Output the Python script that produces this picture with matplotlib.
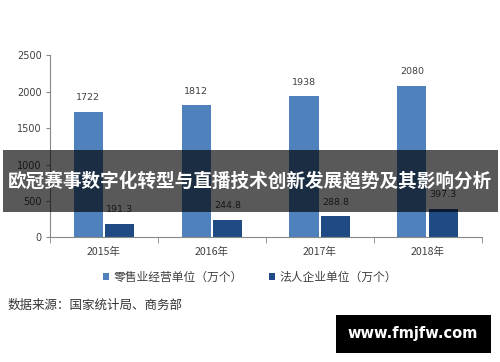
import matplotlib
matplotlib.use("Agg")
import matplotlib.pyplot as plt
import numpy as np
from matplotlib.patches import Rectangle

plt.rcParams['font.family'] = ['DejaVu Sans', 'Noto Sans CJK SC']

years = ['2015年', '2016年', '2017年', '2018年']
retail_units = [1722, 1812, 1938, 2080]
legal_units = [191.3, 244.8, 288.8, 397.3]
series_names = ['零售业经营单位（万个）', '法人企业单位（万个）']
title = '欧冠赛事数字化转型与直播技术创新发展趋势及其影响分析'
source = '数据来源：国家统计局、商务部'
site = 'www.fmjfw.com'

c_light = '#4f81bd'
c_dark = '#1f4a84'
txt = '#404040'

fig = plt.figure(figsize=(5, 3.62), dpi=100)
ax = fig.add_axes([0.1, 0.344, 0.863, 0.503])

x = np.arange(len(years))
w = 0.27
b1 = ax.bar(x - w / 2 - 0.01, retail_units, w, color=c_light, label=series_names[0])
b2 = ax.bar(x + w / 2 + 0.01, legal_units, w, color=c_dark, label=series_names[1])

for rect, v in zip(b1, retail_units):
    ax.annotate(f'{v:g}', (rect.get_x() + rect.get_width() / 2, v), xytext=(0, 7),
                textcoords='offset points', ha='center', va='bottom', fontsize=6.8, color=txt)
for rect, v in zip(b2, legal_units):
    ax.annotate(f'{v:g}', (rect.get_x() + rect.get_width() / 2, v), xytext=(0, 7),
                textcoords='offset points', ha='center', va='bottom', fontsize=6.8, color=txt)

ax.set_xlim(-0.5, 3.5)
ax.set_ylim(0, 2500)
ax.set_yticks(np.arange(0, 2501, 500))
ax.set_xticks(x)
ax.set_xticklabels(years, fontsize=7.6, color=txt, family=['Noto Sans CJK SC'])
ax.set_xticks(np.arange(-0.5, 4, 1), minor=True)
ax.tick_params(axis='x', which='major', length=0, pad=7)
ax.tick_params(axis='x', which='minor', length=4, color='#888888')
ax.tick_params(axis='y', length=3, color='#888888', labelsize=7, labelcolor=txt, pad=3)
for s in ['top', 'right']:
    ax.spines[s].set_visible(False)
for s in ['left', 'bottom']:
    ax.spines[s].set_color('#888888')
    ax.spines[s].set_linewidth(0.8)

leg = fig.legend(handles=[b1, b2], loc='center', bbox_to_anchor=(0.5, 0.235), ncol=2,
                 frameon=False, handlelength=0.5, handleheight=0.5, handletextpad=0.4,
                 columnspacing=2.2, prop={'family': 'Noto Sans CJK SC', 'size': 8.5})
for t in leg.get_texts():
    t.set_color(txt)

fig.text(0.016, 0.158, source, fontsize=9, color='#333333',
         family='Noto Sans CJK SC', ha='left', va='center')

# dark translucent title band
fig.patches.append(Rectangle((0.006, 0.4144), 0.99, 0.1712, transform=fig.transFigure,
                             facecolor='black', alpha=0.65, zorder=10))
fig.text(0.5, 0.5, title, fontsize=13.4, color='white', fontweight='bold',
         family='Noto Sans CJK SC', ha='center', va='center', zorder=11)

# watermark box
fig.patches.append(Rectangle((0.672, 0.026), 0.31, 0.104, transform=fig.transFigure,
                             facecolor='black', zorder=10))
fig.text(0.826, 0.078, site, fontsize=10.5, color='white', fontweight='bold',
         ha='center', va='center', zorder=11)

fig.savefig('out.png', dpi=100)
